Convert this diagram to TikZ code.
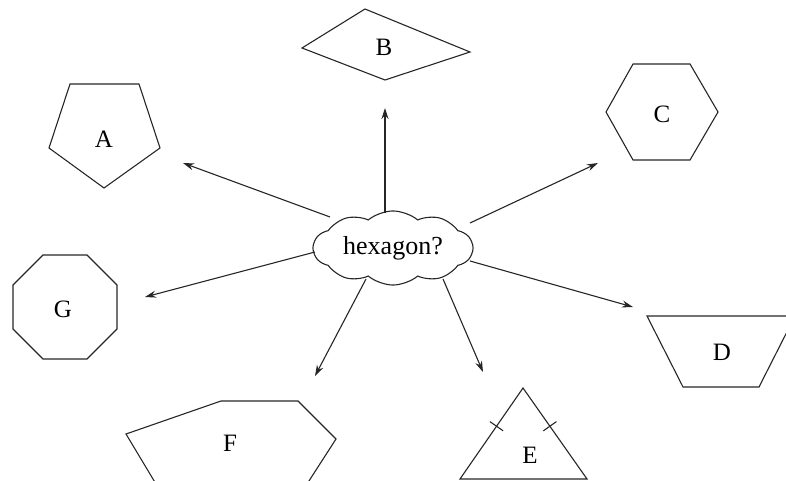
\documentclass[tikz,border=0pt]{standalone}
\usepackage{fontspec}
\setmainfont{Liberation Serif}
\usetikzlibrary{shapes.symbols,arrows.meta,calc}
\begin{document}
\begin{tikzpicture}[x=1pt,y=-1pt,line width=1.1pt,
  shp/.style={draw=black!85,line join=miter},
  lbl/.style={inner sep=0pt,font=\fontsize{25}{29}\selectfont},
  arr/.style={draw=black!85,-{Stealth[length=11pt,width=7pt]}}]
\useasboundingbox (0,0) rectangle (786,481);
% cloud
\node[cloud,draw=black!85,cloud puffs=10,cloud puff arc=80,aspect=2.3,
  minimum width=159pt,minimum height=71pt,inner sep=0pt,
  font=\fontsize{26}{30}\selectfont] (hub) at (393,248) {hexagon?};
% A pentagon
\draw[shp] (70,84) -- (139,84) -- (160,148) -- (104,188) -- (49,148) -- cycle;
\node[lbl] (A) at (104,139) {A};
% B kite
\draw[shp] (365,9) -- (470,52) -- (385,80) -- (302,48) -- cycle;
\node[lbl] (B) at (384,47) {B};
% C hexagon
\draw[shp] (633,64) -- (690,64) -- (718,112) -- (690,160) -- (633,160) -- (606,112) -- cycle;
\node[lbl] (C) at (662,114) {C};
% D trapezoid
\draw[shp] (683,387) -- (647,316) -- (795,316) -- (759,387) -- cycle;
\node[lbl] (D) at (722,352) {D};
% E triangle
\coordinate (e1) at (460,479);
\coordinate (e2) at (523,388);
\coordinate (e3) at (587,479);
\draw[shp] (e1) -- (e2) -- (e3) -- cycle;
\draw[shp] ($(e1)!0.58!(e2)!8pt!90:(e2)$) -- ($(e1)!0.58!(e2)!8pt!-90:(e2)$);
\draw[shp] ($(e3)!0.58!(e2)!8pt!90:(e2)$) -- ($(e3)!0.58!(e2)!8pt!-90:(e2)$);
\node[lbl] (E) at (530,455) {E};
% F partial hexagon
\draw[shp] (156,484) -- (126,434) -- (221,401) -- (298,401) -- (336,439) -- (307,484);
\node[lbl] (F) at (230,443) {F};
% G octagon
\draw[shp] (43,255) -- (87,255) -- (117,285) -- (117,329) -- (87,359) -- (43,359) -- (13,329) -- (13,285) -- cycle;
\node[lbl] (G) at (63,309) {G};
% arrow tips
\coordinate (tA) at (183,163);
\coordinate (tB) at (385,108);
\coordinate (tC) at (598,163);
\coordinate (tD) at (633,307);
\coordinate (tE) at (483,372);
\coordinate (tF) at (315,376);
\coordinate (tG) at (145,297);
\draw[arr] ($(hub.center)+(-63,-31)$) -- (tA);
\draw[arr] ($(hub.center)+(-8,-35)$) -- (tB);
\draw[arr] ($(hub.center)+(77,-25)$) -- (tC);
\draw[arr] ($(hub.center)+(77,13)$) -- (tD);
\draw[arr] ($(hub.center)+(50,31)$) -- (tE);
\draw[arr] ($(hub.center)+(-27,31)$) -- (tF);
\draw[arr] ($(hub.center)+(-78,4)$) -- (tG);
\end{tikzpicture}
\end{document}
